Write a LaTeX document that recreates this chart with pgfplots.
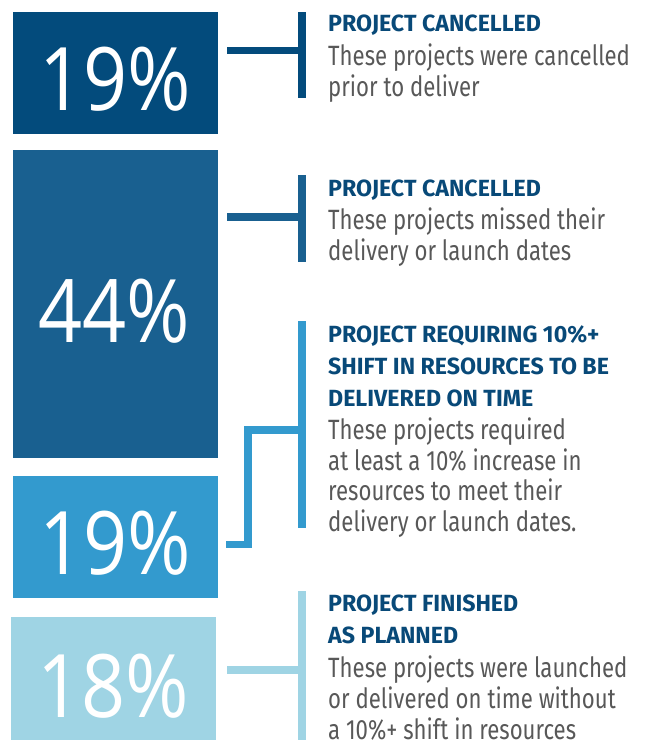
\documentclass[border=0pt]{standalone}
\usepackage{pgfplots}
\pgfplotsset{compat=1.18}
\usepackage{fontspec}
\setmainfont{Fira Sans}[FakeStretch=0.795]
\newfontfamily\titlef{Fira Sans}[FakeStretch=0.99]
\newfontfamily\bigf{Open Sans}[FakeStretch=0.88]

\definecolor{cA}{RGB}{3,75,124}
\definecolor{cB}{RGB}{25,96,144}
\definecolor{cC}{RGB}{51,154,206}
\definecolor{cD}{RGB}{159,212,228}
\definecolor{ttl}{RGB}{8,73,120}
\definecolor{txt}{RGB}{88,88,88}

\newcommand{\ttl}[2]{\node[anchor=base west, inner sep=0pt, text=ttl,
  font=\titlef\bfseries\fontsize{23.5}{28}\selectfont] at (axis cs:328,#1) {#2};}
\newcommand{\bdy}[2]{\node[anchor=base west, inner sep=0pt, text=txt,
  font=\fontsize{28}{31}\selectfont] at (axis cs:328,#1) {#2};}
\newcommand{\pct}[3]{\node[anchor=base, inner sep=0pt, text=white,
  font=\bigf\fontsize{88}{88}\selectfont] at (axis cs:#1,#2) {#3\%};}

\begin{document}
\begin{tikzpicture}
\begin{axis}[
    width=645bp, height=740bp, scale only axis,
    xmin=0, xmax=645, ymin=0, ymax=740,
    y dir=reverse, hide axis, clip=false,
]
% blocks (pixel layout), values 19 / 44 / 19 / 18 %
\addplot[fill=cA, draw=none] coordinates {(13,12) (218,12) (218,134) (13,134)} -- cycle;
\addplot[fill=cB, draw=none] coordinates {(13,150) (218,150) (218,458) (13,458)} -- cycle;
\addplot[fill=cC, draw=none] coordinates {(13,476) (218,476) (218,598) (13,598)} -- cycle;
\addplot[fill=cD, draw=none] coordinates {(11,617) (216,617) (216,740) (11,740)} -- cycle;

% connectors
\addplot[cA, line width=7.5bp] coordinates {(227,50.5) (302,50.5)};
\addplot[cA, line width=7.5bp] coordinates {(302,12) (302,98)};
\addplot[cB, line width=7.5bp] coordinates {(227,217) (302,217)};
\addplot[cB, line width=7.5bp] coordinates {(302,175) (302,262)};
\addplot[cC, line width=7.5bp] coordinates {(302,321) (302,528)};
\addplot[cC, line width=7.5bp, line join=miter] coordinates {(302,430) (248,430) (248,544.5) (226,544.5)};
\addplot[cD, line width=7.5bp] coordinates {(227,670) (302,670)};
\addplot[cD, line width=7.5bp] coordinates {(302,591) (302,740)};

\pct{115.5}{110}{19}
\pct{114.5}{342}{44}
\pct{115.5}{574}{19}
\pct{113.5}{717}{18}

\ttl{31}{PROJECT CANCELLED}
\bdy{65}{These projects were cancelled}
\bdy{96}{prior to deliver}

\ttl{196}{PROJECT CANCELLED}
\bdy{229}{These projects missed their}
\bdy{260}{delivery or launch dates}

\ttl{342}{PROJECT REQUIRING 10\%+}
\ttl{374}{SHIFT IN RESOURCES TO BE}
\ttl{406}{DELIVERED ON TIME}
\bdy{439}{These projects required}
\bdy{470}{at least a 10\% increase in}
\bdy{500}{resources to meet their}
\bdy{531}{delivery or launch dates.}

\ttl{611}{PROJECT FINISHED}
\ttl{643}{AS PLANNED}
\bdy{677}{These projects were launched}
\bdy{708}{or delivered on time without}
\bdy{739}{a 10\%+ shift in resources}
\end{axis}
\pgfresetboundingbox
\useasboundingbox (0,0) rectangle (645bp,740bp);
\end{tikzpicture}
\end{document}
